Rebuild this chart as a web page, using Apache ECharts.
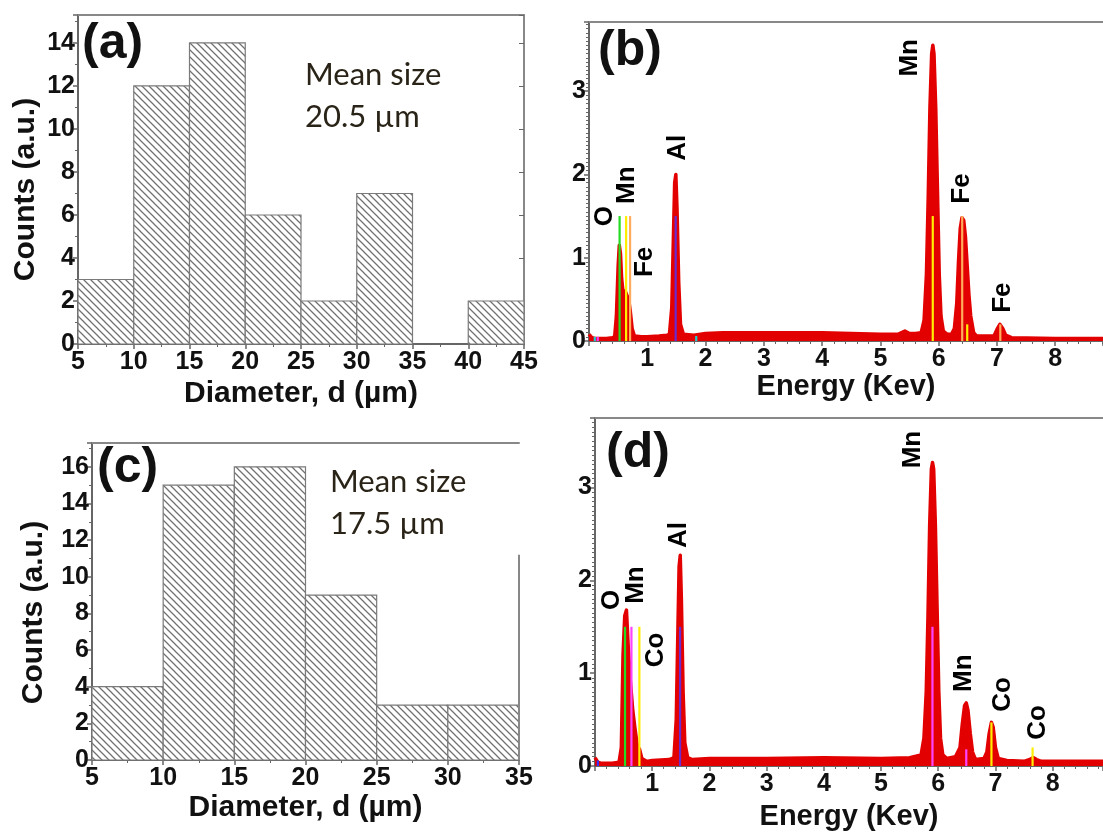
<!DOCTYPE html>
<html><head><meta charset="utf-8">
<script src="https://cdn.jsdelivr.net/npm/echarts@6/dist/echarts.min.js"></script>
<style>html,body{margin:0;padding:0;background:#fff}#c{width:1103px;height:835px}</style>
</head><body><div id="c"></div>
<script>
// ---------- DATA ----------
// Panel (a) histogram
const aBinLeft  = [5, 10, 15, 20, 25, 30, 35, 40];
const aBinRight = [10, 15, 20, 25, 30, 35, 40, 45];
const aCounts   = [3, 12, 14, 6, 2, 7, 0, 2];
// Panel (c) histogram
const cBinLeft  = [5, 10, 15, 20, 25, 30];
const cBinRight = [10, 15, 20, 25, 30, 35];
const cCounts   = [4, 15, 16, 9, 3, 3];

// Panel (b) EDS spectrum
const bEnergy = [0.0,0.05,0.1,0.2,0.3,0.4,0.44,0.47,0.5,0.52,0.54,0.56,0.59,0.62,0.65,0.68,0.71,0.74,0.78,0.9,1.0,1.2,1.34,1.38,1.42,1.45,1.47,1.49,1.51,1.54,1.57,1.62,1.8,2.0,2.3,2.5,3.0,3.5,4.0,4.5,5.0,5.3,5.42,5.5,5.6,5.7,5.75,5.79,5.82,5.85,5.88,5.9,5.92,5.95,5.98,6.01,6.04,6.08,6.15,6.22,6.27,6.31,6.34,6.37,6.4,6.43,6.46,6.49,6.52,6.55,6.6,6.65,6.8,6.95,7.0,7.05,7.1,7.15,7.25,8.0,9.0];
const bCounts = [0.08,0.04,0.03,0.03,0.03,0.04,0.05,0.3,0.9,1.15,1.05,0.75,0.55,0.6,0.6,0.5,0.35,0.15,0.06,0.05,0.05,0.06,0.07,0.08,0.4,1.3,1.9,2.0,1.6,0.7,0.2,0.08,0.07,0.09,0.1,0.1,0.1,0.1,0.1,0.09,0.08,0.08,0.12,0.09,0.09,0.1,0.25,0.8,1.7,2.8,3.45,3.55,3.45,2.8,1.8,0.8,0.3,0.12,0.08,0.08,0.15,0.45,0.95,1.35,1.48,1.45,1.25,0.9,0.55,0.3,0.1,0.06,0.06,0.06,0.14,0.2,0.15,0.07,0.04,0.03,0.03];
// Panel (b) element marker lines
const bMarkE = [0.1, 0.15, 0.525, 0.637, 0.705, 1.487, 1.84, 5.899, 6.404, 6.49, 7.058];
const bMarkH = [0.05, 0.05, 1.5, 1.5, 1.5, 1.5, 0.06, 1.5, 1.5, 0.2, 0.2];
const bMarkK = ['cyan','magenta','O','MnY','FeO','Al','cyan','MnY','FeO','MnY','FeO'];
// Panel (b) peak labels
const bLabText = ['O','Mn','Fe','Al','Mn','Fe','Fe'];
const bLabE    = [0.27, 0.65, 0.95, 1.52, 5.5, 6.39, 7.1];
const bLabY    = [1.5, 1.87, 0.95, 2.32, 3.4, 1.83, 0.52];

// Panel (d) EDS spectrum
const dEnergy = [0.0,0.05,0.1,0.3,0.42,0.46,0.49,0.52,0.55,0.58,0.62,0.66,0.7,0.74,0.78,0.82,0.9,1.0,1.3,1.38,1.42,1.45,1.47,1.49,1.51,1.54,1.57,1.62,1.7,2.0,3.0,4.0,5.0,5.5,5.7,5.75,5.79,5.82,5.85,5.88,5.9,5.92,5.95,5.98,6.01,6.04,6.08,6.15,6.3,6.38,6.42,6.46,6.49,6.52,6.56,6.6,6.65,6.8,6.85,6.89,6.93,6.96,7.0,7.05,7.2,7.5,7.6,7.66,7.72,7.8,9.0];
const dCounts = [0.09,0.04,0.03,0.03,0.04,0.2,1.2,1.62,1.68,1.3,0.9,0.6,0.4,0.22,0.18,0.08,0.05,0.06,0.07,0.09,0.5,1.5,2.15,2.27,1.8,0.8,0.25,0.09,0.07,0.08,0.08,0.09,0.08,0.09,0.12,0.3,0.8,1.6,2.6,3.2,3.27,3.2,2.6,1.7,0.8,0.3,0.12,0.08,0.1,0.2,0.45,0.65,0.68,0.6,0.35,0.15,0.07,0.08,0.15,0.35,0.47,0.42,0.2,0.08,0.06,0.05,0.07,0.09,0.07,0.05,0.05];
const dMarkE = [0.05, 0.525, 0.637, 0.776, 1.487, 5.899, 6.49, 6.93, 7.649];
const dMarkH = [0.06, 1.5, 1.5, 1.5, 1.5, 1.5, 0.18, 0.47, 0.2];
const dMarkK = ['blue','O','MnM','CoY','Al','MnM','MnM','CoY','CoY'];
const dLabText = ['O','Mn','Co','Al','Mn','Mn','Co','Co'];
const dLabE    = [0.3, 0.71, 1.07, 1.47, 5.56, 6.45, 7.13, 7.74];
const dLabY    = [1.79, 1.95, 1.25, 2.49, 3.41, 1.0, 0.77, 0.47];

const meanA = ['Mean size', '20.5 µm'];
const meanC = ['Mean size', '17.5 µm'];

// ---------- STYLE ----------
const markColor = {O:'#22dd22', MnY:'#ffee00', FeO:'#ffad5c', Al:'#6a2bd0', cyan:'#22cccc', magenta:'#ff33ff', MnM:'#ff44ff', CoY:'#ffee00', blue:'#3333ff'};
const FONT = 'Liberation Sans, Arial, sans-serif';
const AX = '#666';

function hatch(){
  const s = 7, cv = document.createElement('canvas');
  cv.width = s; cv.height = s;
  const g = cv.getContext('2d');
  g.fillStyle = '#fff'; g.fillRect(0,0,s,s);
  g.strokeStyle = '#707070'; g.lineWidth = 1.25;
  g.beginPath();
  g.moveTo(-1,-1); g.lineTo(s+1,s+1);
  g.moveTo(-1,s-1); g.lineTo(1,s+1);
  g.moveTo(s-1,-1); g.lineTo(s+1,1);
  g.stroke();
  return cv;
}
const HATCH = {image: hatch(), repeat: 'repeat'};

const chart = echarts.init(document.getElementById('c'), null, {renderer:'canvas'});

function histSeries(L, R, C, gi){
  return {
    type:'custom', xAxisIndex: gi, yAxisIndex: gi*2, coordinateSystem:'cartesian2d',
    data: L.map((l,i)=>[l, R[i], C[i]]),
    renderItem(params, api){
      const y = api.value(2);
      if (!y) return null;
      const p0 = api.coord([api.value(0), y]);
      const p1 = api.coord([api.value(1), 0]);
      return {type:'rect', shape:{x:p0[0], y:p0[1], width:p1[0]-p0[0], height:p1[1]-p0[1]},
        style:{fill: HATCH, stroke:'#7a7a7a', lineWidth:1.2}};
    }, z: 2
  };
}
function specSeries(E, C, gi){
  return {type:'line', xAxisIndex: gi, yAxisIndex: gi*2, data: E.map((e,i)=>[e, C[i]]),
    symbol:'none', lineStyle:{color:'#e30000', width:3.5, join:'round'}, areaStyle:{color:'#e30000', opacity:1}, z:2, silent:true};
}
function markSeries(E, H, K, gi){
  return {type:'custom', xAxisIndex: gi, yAxisIndex: gi*2, data: E.map((e,i)=>[e, H[i], i]),
    renderItem(params, api){
      const a = api.coord([api.value(0), 0]), b = api.coord([api.value(0), api.value(1)]);
      return {type:'line', shape:{x1:a[0], y1:a[1], x2:b[0], y2:b[1]},
        style:{stroke: markColor[K[api.value(2)]], lineWidth:2.2}};
    }, z:3};
}
function labelSeries(T, E, Y, gi){
  return {type:'scatter', xAxisIndex: gi, yAxisIndex: gi*2, symbolSize:0, itemStyle:{color:'rgba(0,0,0,0)'},
    data: E.map((e,i)=>({value:[e, Y[i]], name:T[i]})),
    label:{show:true, position:'inside', rotate:90, formatter:p=>p.name, color:'#000', opacity:1, fontSize:26, fontWeight:'bold', fontFamily:FONT},
    z:4, silent:true};
}

const grids = [
  {left:78, top:15, width:446, height:329},
  {left:589, top:22, width:514, height:319},
  {left:92, top:443, width:427, height:317},
  {left:595, top:418, width:508, height:348}
];
const xCfg = [
  {min:5, max:45, interval:5, gap:35, fs:30, name:'Diameter, d (µm)'},
  {min:0, max:8.82, interval:1, gap:30, fs:29, name:'Energy (Kev)'},
  {min:5, max:35, interval:5, gap:33, fs:30, name:'Diameter, d (µm)'},
  {min:0, max:8.88, interval:1, gap:36, fs:29, name:'Energy (Kev)'}
];
const yCfg = [
  {min:0, max:15.3, interval:2, minor:2, gap:37, pad:[0,20,0,0], name:'Counts (a.u.)'},
  {min:0, max:3.83, interval:1, minor:20, gap:30, pad:0, name:''},
  {min:0, max:17.3, interval:2, minor:2, gap:43, pad:[0,22,0,0], name:'Counts (a.u.)'},
  {min:0, max:3.75, interval:1, minor:20, gap:30, pad:0, name:''}
];
const lab = {color:'#111', fontSize:25, fontWeight:'bold', fontFamily:FONT};
const xAxis = [], yAxis = [];
xCfg.forEach((c,i)=>{
  const spec = (i===1||i===3);
  xAxis.push({type:'value', gridIndex:i, min:c.min, max:c.max, interval:c.interval,
    name:c.name, nameLocation:'middle', nameGap: c.gap,
    nameTextStyle:{color:'#111', fontSize:c.fs, fontWeight:'bold', fontFamily:FONT},
    axisLine:{onZero:false, lineStyle:{color:AX, width:2}},
    axisTick:{lineStyle:{color:AX, width:1.5}, length:5},
    minorTick:{show:true, splitNumber: spec?5:2, length:3, lineStyle:{color:AX}},
    splitLine:{show:false},
    axisLabel:Object.assign({margin:6, showMaxLabel:!spec, formatter: v => (spec && (v===0 || v%1!==0)) ? '' : String(v)}, lab)});
});
yCfg.forEach((c,i)=>{
  const spec = (i===1||i===3);
  yAxis.push({type:'value', gridIndex:i, min:c.min, max:c.max, interval:c.interval,
    name:c.name, nameLocation:'middle', nameGap:c.gap, nameRotate:90,
    nameTextStyle:{color:'#111', fontSize:30, fontWeight:'bold', fontFamily:FONT, padding:c.pad},
    axisLine:{onZero:false, lineStyle:{color:AX, width:2}},
    axisTick:{lineStyle:{color:AX, width:1.5}, length:5},
    minorTick:{show:true, splitNumber:c.minor, length:3, lineStyle:{color:AX}},
    splitLine:{show:false},
    axisLabel:Object.assign({margin:3, formatter: v => (v % 1 === 0 && v <= (spec?3:16)) ? String(v) : ''}, lab)});
  // right mirror axis
  yAxis.push({type:'value', gridIndex:i, position:'right', min:c.min, max:c.max, interval:c.interval,
    axisLine:{show: !spec && i!==2, onZero:false, lineStyle:{color:'#888', width:2}},
    axisTick:{show: i===0, inside:true, length:5, lineStyle:{color:'#666'}},
    axisLabel:{show:false}, splitLine:{show:false}});
});
// top frame axes
const topX = [0,1,2,3].map(i=>({type:'value', gridIndex:i, position:'top', min:xCfg[i].min, max:xCfg[i].max,
  axisLine:{onZero:false, lineStyle:{color:'#888', width:2}}, axisTick:{show:false}, axisLabel:{show:false}, splitLine:{show:false}}));
xAxis.push(...topX);

const series = [
  histSeries(aBinLeft, aBinRight, aCounts, 0),
  specSeries(bEnergy, bCounts, 1), markSeries(bMarkE, bMarkH, bMarkK, 1), labelSeries(bLabText, bLabE, bLabY, 1),
  histSeries(cBinLeft, cBinRight, cCounts, 2),
  specSeries(dEnergy, dCounts, 3), markSeries(dMarkE, dMarkH, dMarkK, 3), labelSeries(dLabText, dLabE, dLabY, 3),
  // partial right frame of panel (c)
  {type:'line', xAxisIndex:2, yAxisIndex:4, data:[[35,0],[35,11.2]], symbol:'none', lineStyle:{color:'#888', width:2}, z:5, silent:true}
];

const tBold = {fontFamily:FONT, fontWeight:'bold', fontSize:50, fill:'#111'};
const tMean = {fontFamily:'Lato, sans-serif', fontSize:31, fill:'#2a2418'};
const graphic = [
  {type:'text', left:82, top:19, style:Object.assign({text:'(a)'}, tBold)},
  {type:'text', left:598, top:26, style:Object.assign({text:'(b)'}, tBold)},
  {type:'text', left:97, top:443, style:Object.assign({text:'(c)'}, tBold)},
  {type:'text', left:606, top:428, style:Object.assign({text:'(d)'}, tBold)},
  {type:'text', left:305, top:59, style:Object.assign({text:meanA[0]}, tMean)},
  {type:'text', left:305, top:101, style:Object.assign({text:meanA[1]}, tMean)},
  {type:'text', left:330, top:466, style:Object.assign({text:meanC[0]}, tMean)},
  {type:'text', left:330, top:508, style:Object.assign({text:meanC[1]}, tMean)}
];

chart.setOption({animation:false, backgroundColor:'#fff', grid:grids, xAxis, yAxis, series, graphic});
</script></body></html>
